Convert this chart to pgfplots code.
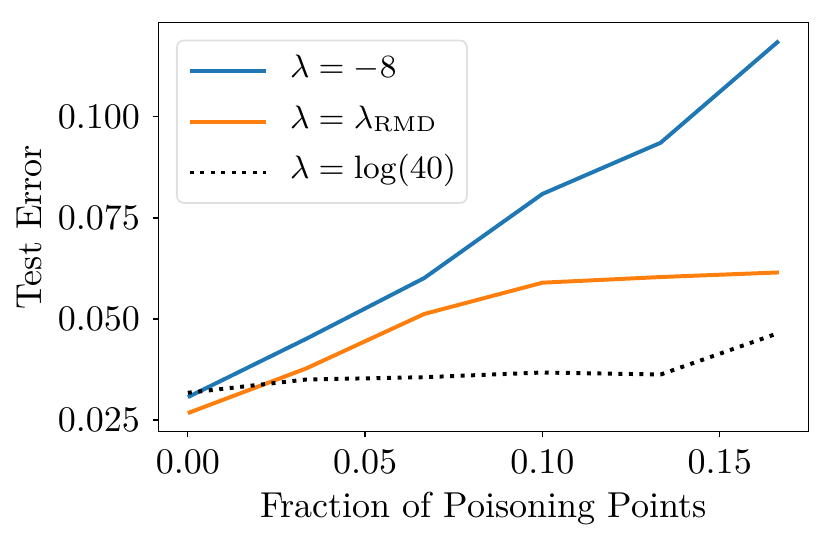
\documentclass[border=0pt]{standalone}
\usepackage{pgfplots}
\pgfplotsset{compat=1.18}
\definecolor{mplblue}{HTML}{1F77B4}
\definecolor{mplorange}{HTML}{FF7F0E}
\begin{document}
\begin{tikzpicture}[x=1pt,y=1pt]
\path[use as bounding box] (-43.93pt,-30.61pt) rectangle (186.12pt,119.80pt);
\begin{axis}[
  at={(0,0)}, anchor=south west,
  scale only axis,
  width=180.4pt, height=113.6pt,
  xmin=-0.008333, xmax=0.175,
  ymin=0.02213, ymax=0.12336,
  xtick={0,0.05,0.10,0.15},
  ytick={0.025,0.05,0.075,0.1},
  scaled ticks=false,
  xticklabel style={/pgf/number format/.cd,fixed,fixed zerofill,precision=2},
  yticklabel style={/pgf/number format/.cd,fixed,fixed zerofill,precision=3},
  tick align=outside,
  xtick pos=bottom, ytick pos=left,
  major tick length=1.55pt,
  every tick/.style={black,line width=0.36pt},
  axis line style={line width=0.36pt},
  xlabel={Fraction of Poisoning Points},
  ylabel={Test Error},
  every axis x label/.style={at={(axis description cs:0.5,-0.1876)},anchor=center},
  every axis y label/.style={at={(axis description cs:-0.1982,0.5)},anchor=center,rotate=90},
  legend style={
    at={(axis description cs:0.0272,0.958)}, anchor=north west,
    draw=black!12, line width=0.5pt, rounded corners=2pt,
    font=\fontsize{9}{10.8}\selectfont,
    inner xsep=3.0pt, inner ysep=3.2pt,
    row sep=3.6pt, column sep=6.2pt,
    nodes={inner sep=0pt, text height=7pt, text depth=3.5pt},
  },
  legend cell align=left,
  legend image code/.code={\draw[#1] (0pt,0pt) -- (21.1pt,0pt);},
]
\addplot[mplblue, line width=1.1pt] coordinates {
  (0,0.03068) (0.033333,0.04508) (0.066667,0.06013) (0.1,0.08093) (0.133333,0.09359) (0.166667,0.11876)
};
\addlegendentry{$\lambda=-8$}
\addplot[mplorange, line width=1.1pt] coordinates {
  (0,0.02673) (0.033333,0.03776) (0.066667,0.05125) (0.1,0.05898) (0.133333,0.06038) (0.166667,0.06152)
};
\addlegendentry{$\lambda=\lambda_{\mathrm{RMD}}$}
\addplot[black, line width=1.1pt, dash pattern=on 1.1pt off 1.82pt] coordinates {
  (0,0.03176) (0.033333,0.03504) (0.066667,0.03561) (0.1,0.03677) (0.133333,0.03628) (0.166667,0.04656)
};
\addlegendentry{$\lambda=\log(40)$}
\end{axis}
\end{tikzpicture}
\end{document}
